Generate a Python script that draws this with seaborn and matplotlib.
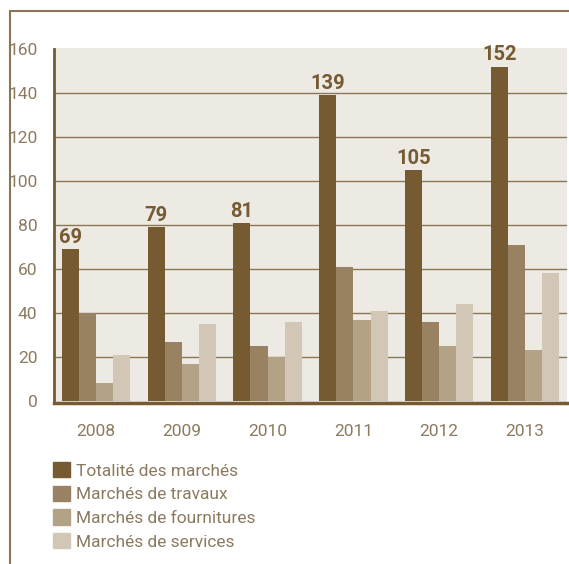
import matplotlib
matplotlib.use("Agg")
import matplotlib.pyplot as plt
import matplotlib.lines as mlines
import pandas as pd
import seaborn as sns

years = ["2008", "2009", "2010", "2011", "2012", "2013"]
series = ["Totalité des marchés", "Marchés de travaux",
          "Marchés de fournitures", "Marchés de services"]
totalite = [69, 79, 81, 139, 105, 152]
travaux = [40, 27, 25, 61, 36, 71]
fournitures = [8, 17, 20, 37, 25, 23]
services = [21, 35, 36, 41, 44, 58]
yticks = [0, 20, 40, 60, 80, 100, 120, 140, 160]

colors = ["#755a32", "#998262", "#b3a286", "#d2c6b6"]
dark = "#755a32"
text_col = "#8c7a60"
line_col = "#8b7556"
bg = "#edeae4"

rows = []
for name, vals in zip(series, [totalite, travaux, fournitures, services]):
    for y, v in zip(years, vals):
        rows.append({"year": y, "serie": name, "value": v})
df = pd.DataFrame(rows)

sns.set_theme(style="white")
plt.rcParams["font.family"] = ["Roboto", "DejaVu Sans"]

fig = plt.figure(figsize=(5.69, 5.64), dpi=100)
ax = fig.add_axes([54 / 569, 161 / 564, 513 / 569, 355 / 564])
ax.set_facecolor(bg)

sns.barplot(data=df, x="year", y="value", hue="serie", order=years,
            hue_order=series, palette=colors, saturation=1, width=0.8,
            linewidth=0, errorbar=None, legend=False, ax=ax, zorder=3)

ax.set_xlim(-0.49, 5.49)
ax.set_ylim(-0.9, 160.45)
ax.set_yticks(yticks)
ax.set_yticklabels([str(t) for t in yticks])
for t in yticks[1:-1]:
    ax.axhline(t, color=line_col, lw=1.0, zorder=1)

# value labels on the total bars
for bar, v in zip(ax.patches[:len(years)], totalite):
    ax.text(bar.get_x() + bar.get_width() / 2, v + 1, str(v),
            ha="center", va="bottom", fontsize=14.5, fontweight="bold",
            color=dark, zorder=4)

ax.set_xlabel("")
ax.set_ylabel("")
ax.tick_params(axis="both", length=0, labelsize=12.5, labelcolor=text_col)
ax.tick_params(axis="x", pad=15)
ax.tick_params(axis="y", pad=12)
for s in ["top", "right"]:
    ax.spines[s].set_visible(False)
ax.spines["left"].set_color(dark)
ax.spines["left"].set_linewidth(2)
ax.spines["bottom"].set_color(dark)
ax.spines["bottom"].set_linewidth(2.5)
ax.spines["left"].set_bounds(-0.9, 160)

# outer frame lines
fig.add_artist(mlines.Line2D([9.5 / 569, 1], [1 - 11 / 564, 1 - 11 / 564],
                             color=line_col, lw=1.5))
fig.add_artist(mlines.Line2D([9.5 / 569, 9.5 / 569], [0, 1 - 11 / 564],
                             color=line_col, lw=1.5))

handles = [plt.Rectangle((0, 0), 1, 1, color=c) for c in colors]
fig.legend(handles, series, loc="upper left",
           bbox_to_anchor=(46 / 569, 1 - 455 / 564), frameon=False,
           prop={"size": 12.5}, labelcolor=text_col,
           handlelength=1.0, handleheight=1.0, handletextpad=0.3,
           labelspacing=0.4, borderaxespad=0)

fig.savefig("out.png", dpi=100, facecolor="white")
